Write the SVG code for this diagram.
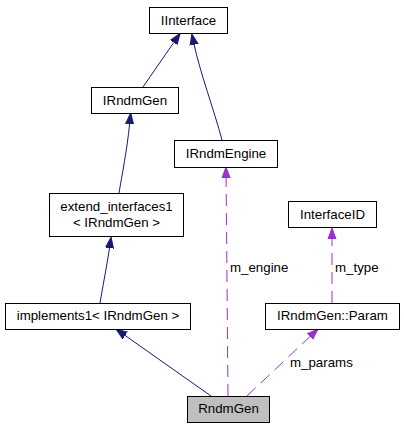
<svg xmlns="http://www.w3.org/2000/svg" width="404" height="429" viewBox="0 0 404 429">
<defs>
<style>
.box{fill:#ffffff;stroke:#000000;stroke-width:1}
.sel{fill:#bfbfbf;stroke:#000000;stroke-width:1}
text{font-family:"Liberation Sans",Arial,sans-serif;font-size:13.3px;fill:#000000}
.inh{fill:none;stroke:#191970;stroke-width:1}
.use{fill:none;stroke:#9a32cd;stroke-width:1;stroke-dasharray:12,7}
</style>
<marker id="ah" markerUnits="userSpaceOnUse" markerWidth="14" markerHeight="10" refX="0" refY="5" orient="auto" viewBox="0 0 14 10">
<path d="M0,1 L11,5 L0,9 z" fill="#191970" stroke="#191970"/>
</marker>
<marker id="ap" markerUnits="userSpaceOnUse" markerWidth="14" markerHeight="10" refX="0" refY="5" orient="auto" viewBox="0 0 14 10">
<path d="M0,1 L11,5 L0,9 z" fill="#9a32cd" stroke="#9a32cd"/>
</marker>
</defs>
<rect width="404" height="429" fill="#ffffff"/>
<g id="edges">
<path class="inh" d="M143,87 C152,74 163,58 173.8,42.5" marker-end="url(#ah)"/>
<path class="inh" d="M222,140 C214,110 200,72 194.1,44.6" marker-end="url(#ah)"/>
<path class="inh" d="M119,193 C122,175 127,150 129.6,124" marker-end="url(#ah)"/>
<path class="inh" d="M100,303 C103,285 107,265 109.5,248" marker-end="url(#ah)"/>
<path class="inh" d="M211,396 L125,335.4" marker-end="url(#ah)"/>
<path class="use" d="M228,396 L226.1,178" marker-end="url(#ap)"/>
<path class="use" d="M247,396 L310,336.5" marker-end="url(#ap)"/>
<path class="use" d="M332,303 L332,239" marker-end="url(#ap)"/>
<text x="230" y="272">m_engine</text>
<text x="335" y="272">m_type</text>
<text x="290" y="367">m_params</text>
</g>
<g id="IInterface">
<rect class="box" x="149.5" y="7.5" width="78" height="26"/>
<text x="188.5" y="24.5" text-anchor="middle">IInterface</text>
</g>
<g id="IRndmGen">
<rect class="box" x="91.5" y="87.5" width="87" height="26"/>
<text x="135" y="104.5" text-anchor="middle">IRndmGen</text>
</g>
<g id="IRndmEngine">
<rect class="box" x="174.5" y="140.5" width="103" height="27"/>
<text x="226" y="158" text-anchor="middle">IRndmEngine</text>
</g>
<g id="extend_interfaces1">
<rect class="box" x="49.5" y="193.5" width="134" height="43"/>
<text x="116.5" y="211" text-anchor="middle">extend_interfaces1</text>
<text x="116.5" y="226.5" text-anchor="middle">&lt; IRndmGen &gt;</text>
</g>
<g id="InterfaceID">
<rect class="box" x="288.5" y="201.5" width="88" height="26"/>
<text x="332.5" y="219" text-anchor="middle">InterfaceID</text>
</g>
<g id="implements1">
<rect class="box" x="5.5" y="303.5" width="185" height="26"/>
<text x="98" y="320" text-anchor="middle">implements1&lt; IRndmGen &gt;</text>
</g>
<g id="Param">
<rect class="box" x="265.5" y="303.5" width="134" height="26"/>
<text x="332.5" y="320" text-anchor="middle">IRndmGen::Param</text>
</g>
<g id="RndmGen">
<rect class="sel" x="187.5" y="396.5" width="82" height="26"/>
<text x="228.5" y="413" text-anchor="middle">RndmGen</text>
</g>
</svg>
